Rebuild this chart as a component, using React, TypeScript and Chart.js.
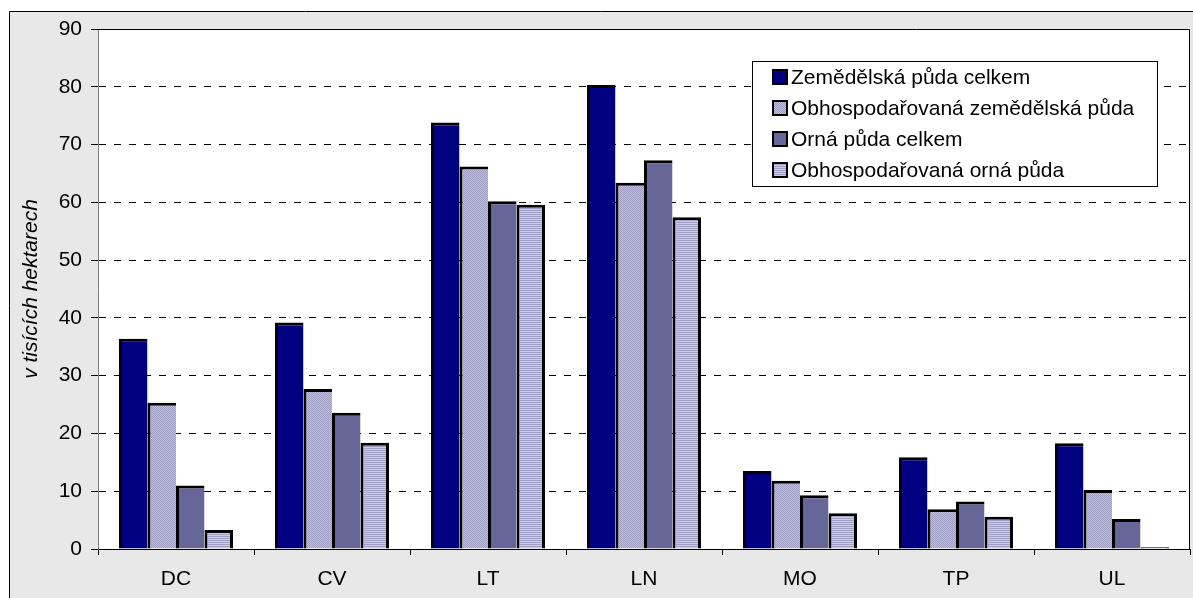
import React, { useEffect, useRef } from "react";
import { Chart, registerables } from "chart.js";

Chart.register(...registerables);

const categories = ["DC", "CV", "LT", "LN", "MO", "TP", "UL"];
const seriesLabels = [
  "Zemědělská půda celkem",
  "Obhospodařovaná zemědělská půda",
  "Orná půda celkem",
  "Obhospodařovaná orná půda",
];
const zemedelskaCelkem = [36.4, 39.2, 73.8, 80.3, 13.5, 15.9, 18.3];
const obhospZemedelska = [25.3, 27.7, 66.2, 63.4, 11.8, 6.9, 10.2];
const ornaCelkem = [11.0, 23.6, 60.2, 67.3, 9.3, 8.2, 5.2];
const obhospOrna = [3.3, 18.4, 59.6, 57.4, 6.2, 5.6, 0.3];
const yTicks = [0, 10, 20, 30, 40, 50, 60, 70, 80, 90];
const yTitle = "v tisících hektarech";

const FONT = '"Liberation Sans", Arial, sans-serif';
const FS = 21;

function makeDiagPattern(): CanvasPattern | string {
  const c = document.createElement("canvas");
  c.width = 4;
  c.height = 4;
  const g = c.getContext("2d");
  if (!g) return "#B4B4D2";
  g.fillStyle = "#BEBEDA";
  g.fillRect(0, 0, 4, 4);
  g.fillStyle = "#9E9EC2";
  for (let i = 0; i < 4; i++) {
    g.fillRect(i, i % 4, 1, 1);
    g.fillRect(i, (i + 2) % 4, 1, 1);
  }
  const p = g.createPattern(c, "repeat");
  return p || "#B4B4D2";
}

function makeStripePattern(): CanvasPattern | string {
  const c = document.createElement("canvas");
  c.width = 2;
  c.height = 2;
  const g = c.getContext("2d");
  if (!g) return "#B8B8D8";
  g.fillStyle = "#CACAE2";
  g.fillRect(0, 0, 2, 2);
  g.fillStyle = "#A0A0C6";
  g.fillRect(0, 0, 2, 1);
  const p = g.createPattern(c, "repeat");
  return p || "#B8B8D8";
}

const framePlugin = {
  id: "frame",
  beforeDraw(chart: any) {
    const ctx = chart.ctx;
    ctx.save();
    ctx.fillStyle = "#E8E8E8";
    ctx.fillRect(9, 11, chart.width, chart.height);
    ctx.strokeStyle = "#000000";
    ctx.lineWidth = 1;
    ctx.beginPath();
    ctx.moveTo(9.5, chart.height + 5);
    ctx.lineTo(9.5, 11.5);
    ctx.lineTo(chart.width + 5, 11.5);
    ctx.stroke();
    const a = chart.chartArea;
    ctx.fillStyle = "#FFFFFF";
    ctx.fillRect(a.left, a.top, a.right - a.left, a.bottom - a.top);
    ctx.restore();
  },
  afterDatasetsDraw(chart: any) {
    const ctx = chart.ctx;
    const a = chart.chartArea;
    ctx.save();
    ctx.strokeStyle = "#000000";
    ctx.lineWidth = 1;
    ctx.beginPath();
    ctx.moveTo(a.left, Math.round(a.top) + 0.5);
    ctx.lineTo(Math.round(a.right) - 0.5, Math.round(a.top) + 0.5);
    ctx.lineTo(Math.round(a.right) - 0.5, a.bottom);
    ctx.stroke();
    ctx.restore();
  },
  afterDraw(chart: any) {
    const ctx = chart.ctx;
    const bx = 752.5;
    const by = 61.5;
    const bw = 405;
    const bh = 125;
    ctx.save();
    ctx.fillStyle = "#FFFFFF";
    ctx.fillRect(bx, by, bw, bh);
    ctx.strokeStyle = "#000000";
    ctx.lineWidth = 1;
    ctx.strokeRect(bx, by, bw, bh);
    ctx.font = `${FS}px ${FONT}`;
    ctx.textBaseline = "middle";
    ctx.textAlign = "left";
    chart.data.datasets.forEach((ds: any, i: number) => {
      const cy = 77 + i * 31;
      ctx.fillStyle = ds.backgroundColor;
      ctx.fillRect(773, cy - 7, 14, 14);
      ctx.strokeStyle = "#000000";
      ctx.lineWidth = 2;
      ctx.strokeRect(773, cy - 7, 14, 14);
      ctx.fillStyle = "#000000";
      ctx.fillText(ds.label, 791, cy + 1);
    });
    ctx.restore();
  },
};

export default function App() {
  const ref = useRef<HTMLCanvasElement | null>(null);
  useEffect(() => {
    if (!ref.current) return;
    const diag = makeDiagPattern();
    const stripe = makeStripePattern();
    const inner = { top: 3, left: 3, right: 0, bottom: 0 };
    const last = { top: 3, left: 3, right: 3, bottom: 0 };
    const common = {
      borderColor: "#000000",
      borderSkipped: false,
      categoryPercentage: 0.731,
      barPercentage: 1.0,
    };
    const chart = new Chart(ref.current, {
      type: "bar",
      data: {
        labels: categories,
        datasets: [
          { label: seriesLabels[0], data: zemedelskaCelkem, backgroundColor: "#000080", borderWidth: inner, ...common },
          { label: seriesLabels[1], data: obhospZemedelska, backgroundColor: diag, borderWidth: inner, ...common },
          { label: seriesLabels[2], data: ornaCelkem, backgroundColor: "#666699", borderWidth: inner, ...common },
          { label: seriesLabels[3], data: obhospOrna, backgroundColor: stripe, borderWidth: last, ...common },
        ] as any,
      },
      options: {
        animation: false,
        responsive: false,
        devicePixelRatio: 1,
        layout: { padding: { left: 0, top: 29, right: 3, bottom: 0 } },
        plugins: {
          legend: { display: false },
          tooltip: { enabled: false },
        },
        scales: {
          x: {
            offset: true,
            grid: {
              offset: true,
              drawOnChartArea: false,
              drawTicks: true,
              tickLength: 6,
              tickColor: "#000000",
              color: "#000000",
            },
            border: { display: true, color: "#000000", width: 1 },
            ticks: {
              color: "#000000",
              font: { family: FONT, size: FS },
              padding: 12,
              maxRotation: 0,
              autoSkip: false,
            },
            afterFit(scale: any) {
              scale.height = 49;
            },
          },
          y: {
            min: 0,
            max: 90,
            afterBuildTicks(scale: any) {
              scale.ticks = yTicks.map((v) => ({ value: v }));
            },
            grid: {
              color: "#000000",
              lineWidth: 1,
              drawTicks: true,
              tickLength: 7,
              tickColor: "#000000",
              tickBorderDash: [],
            },
            border: { display: true, color: "#808080", width: 1, dash: [7, 8] },
            ticks: {
              color: "#000000",
              font: { family: FONT, size: FS },
              padding: 9,
            },
            title: {
              display: true,
              text: yTitle,
              color: "#000000",
              font: { family: FONT, size: FS, style: "italic" },
              padding: { top: 19, bottom: 0 },
            },
            afterFit(scale: any) {
              scale.width = 98;
            },
          },
        },
      },
      plugins: [framePlugin],
    });
    return () => chart.destroy();
  }, []);
  return (
    <div style={{ position: "absolute", left: 0, top: 0, width: 1193, height: 598 }}>
      <canvas ref={ref} width={1193} height={598} style={{ display: "block", width: 1193, height: 598 }} />
    </div>
  );
}
